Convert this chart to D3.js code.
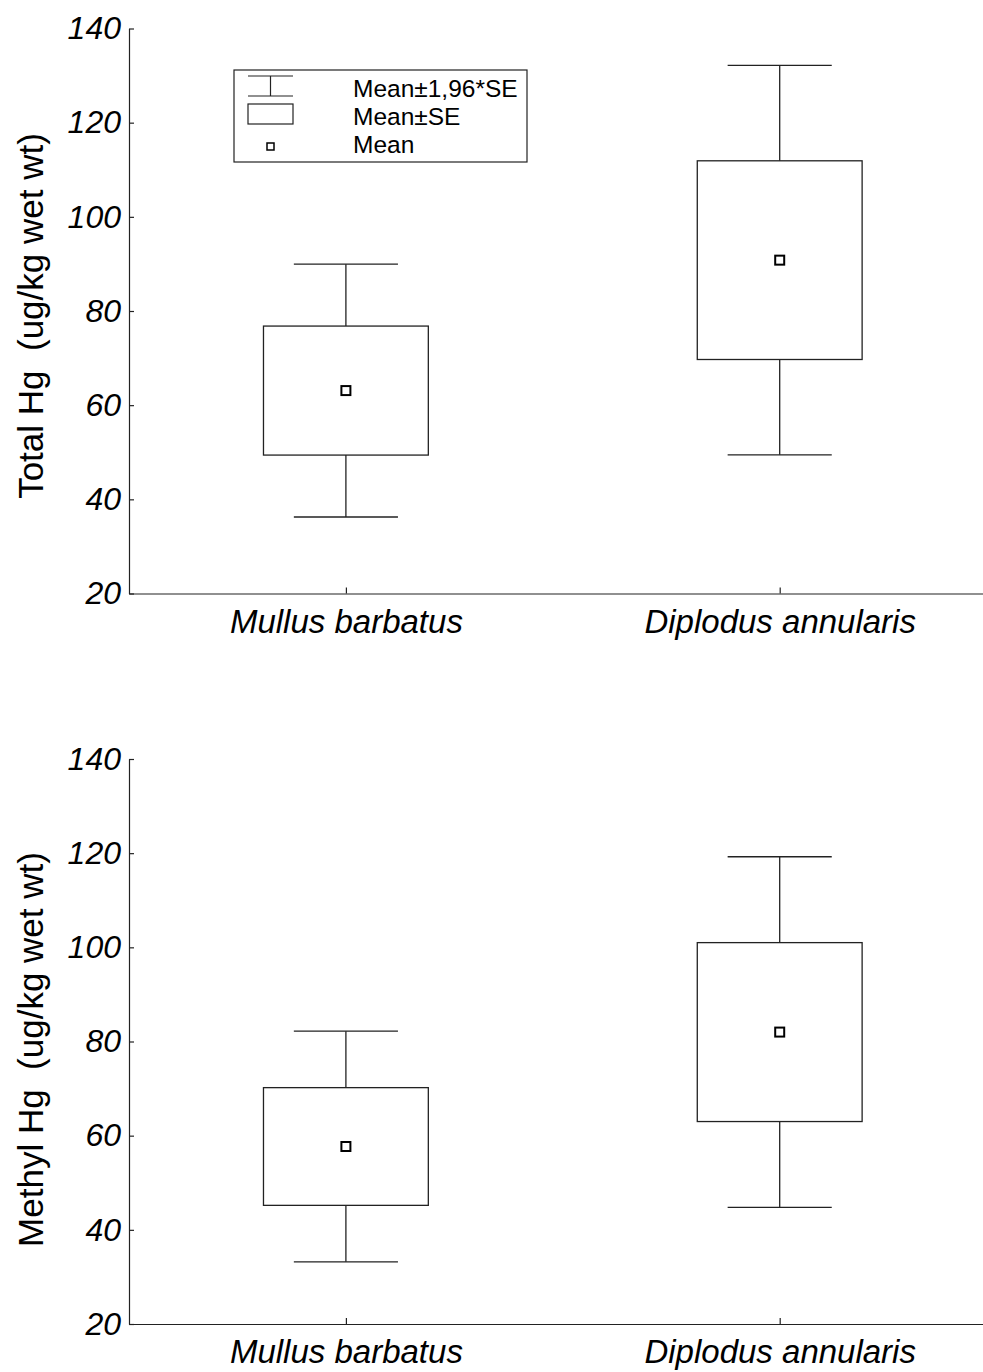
<!DOCTYPE html>
<html>
<head>
<meta charset="utf-8">
<script src="https://cdn.jsdelivr.net/npm/d3@7"></script>
<style>
  html, body { margin: 0; padding: 0; background: #fff; }
  svg { display: block; font-family: "Liberation Sans", Arial, Helvetica, sans-serif; }
</style>
</head>
<body>
<svg id="chart" width="983" height="1372"></svg>
<script>
// Mercury concentrations (ug/kg wet wt) in two fish species
const species = ["Mullus barbatus", "Diplodus annularis"];
const totalHgMean = [63.1, 90.8];
const totalHgSE = [13.7, 21.1];
const methylHgMean = [57.7, 82.0];
const methylHgSE = [12.5, 19.0];
const yTicks = [20, 40, 60, 80, 100, 120, 140];
const legendLabels = ["Mean\u00b11,96*SE", "Mean\u00b1SE", "Mean"];

const svg = d3.select("#chart");
const ink = "#222";

const panels = [
  { title: "Total Hg  (ug/kg wet wt)", mean: totalHgMean, se: totalHgSE,
    top: 28.5, bottom: 593.5, titleShift: 5, legend: true },
  { title: "Methyl Hg  (ug/kg wet wt)", mean: methylHgMean, se: methylHgSE,
    top: 759, bottom: 1324, titleShift: 8, legend: false }
];

const left = 129, right = 996.6;

panels.forEach(p => {
  const x = d3.scalePoint().domain(species).range([left, right]).padding(0.5);
  const y = d3.scaleLinear().domain([20, 140]).range([p.bottom, p.top]);
  const step = x.step();
  const boxW = step * 0.38;
  const capW = step * 0.24;

  const g = svg.append("g");

  // y axis, ticks pointing inward
  const yAxis = g.append("g")
    .attr("transform", `translate(${left},0)`)
    .call(d3.axisLeft(y).tickValues(yTicks).tickSizeInner(-5).tickSizeOuter(0).tickPadding(8));
  yAxis.select(".domain").attr("stroke", ink).attr("stroke-width", 1.2);
  yAxis.selectAll(".tick line").attr("stroke", ink).attr("stroke-width", 1.2);
  yAxis.selectAll(".tick text")
    .attr("font-size", 32).attr("font-style", "italic").attr("fill", "#000")
    .attr("font-family", "Liberation Sans, Arial, sans-serif");

  // x axis, ticks pointing inward
  const xAxis = g.append("g")
    .attr("transform", `translate(0,${p.bottom})`)
    .call(d3.axisBottom(x).tickSizeInner(-6).tickSizeOuter(0));
  xAxis.select(".domain").attr("stroke", ink).attr("stroke-width", 1.2);
  xAxis.selectAll(".tick line").attr("stroke", ink).attr("stroke-width", 1.2);
  xAxis.selectAll(".tick text")
    .attr("y", 39).attr("dy", 0)
    .attr("font-size", 33).attr("font-style", "italic").attr("fill", "#000")
    .attr("font-family", "Liberation Sans, Arial, sans-serif");

  // y axis title
  g.append("text")
    .attr("transform", `translate(43,${(p.top + p.bottom) / 2 + p.titleShift}) rotate(-90)`)
    .attr("text-anchor", "middle")
    .attr("font-size", 35)
    .attr("fill", "#000")
    .style("white-space", "pre")
    .text(p.title);

  // whiskers (mean ± 1.96 SE), boxes (mean ± SE) and mean markers
  species.forEach((s, i) => {
    const cx = x(s);
    const m = p.mean[i], se = p.se[i];
    const lo = m - 1.96 * se, hi = m + 1.96 * se;
    const b = g.append("g").attr("fill", "none").attr("stroke", ink).attr("stroke-width", 1.3);
    b.append("line").attr("x1", cx).attr("x2", cx).attr("y1", y(hi)).attr("y2", y(m + se));
    b.append("line").attr("x1", cx).attr("x2", cx).attr("y1", y(m - se)).attr("y2", y(lo));
    b.append("line").attr("x1", cx - capW / 2).attr("x2", cx + capW / 2).attr("y1", y(hi)).attr("y2", y(hi));
    b.append("line").attr("x1", cx - capW / 2).attr("x2", cx + capW / 2).attr("y1", y(lo)).attr("y2", y(lo));
    b.append("rect")
      .attr("x", cx - boxW / 2).attr("width", boxW)
      .attr("y", y(m + se)).attr("height", y(m - se) - y(m + se));
    b.append("rect")
      .attr("x", cx - 4.5).attr("y", y(m) - 4.5).attr("width", 9).attr("height", 9)
      .attr("fill", "#fff").attr("stroke", "#000").attr("stroke-width", 2);
  });

  if (p.legend) {
    const lg = g.append("g").attr("transform", "translate(234,70)");
    lg.append("rect").attr("width", 293).attr("height", 92)
      .attr("fill", "#fff").attr("stroke", ink).attr("stroke-width", 1.2);
    const sym = lg.append("g").attr("fill", "none").attr("stroke", ink).attr("stroke-width", 1.2);
    // whisker symbol
    sym.append("line").attr("x1", 14).attr("x2", 59).attr("y1", 6).attr("y2", 6);
    sym.append("line").attr("x1", 14).attr("x2", 59).attr("y1", 26).attr("y2", 26);
    sym.append("line").attr("x1", 36.5).attr("x2", 36.5).attr("y1", 6).attr("y2", 26);
    // box symbol
    sym.append("rect").attr("x", 14).attr("y", 34).attr("width", 45).attr("height", 20);
    // mean symbol
    sym.append("rect").attr("x", 33).attr("y", 73).attr("width", 7).attr("height", 7)
      .attr("stroke", "#000").attr("stroke-width", 1.5);
    lg.selectAll("text.leg").data(legendLabels).join("text")
      .attr("class", "leg")
      .attr("x", 119)
      .attr("y", (d, i) => 27 + i * 28)
      .attr("font-size", 24.5)
      .attr("fill", "#000")
      .text(d => d);
  }
});
</script>
</body>
</html>
